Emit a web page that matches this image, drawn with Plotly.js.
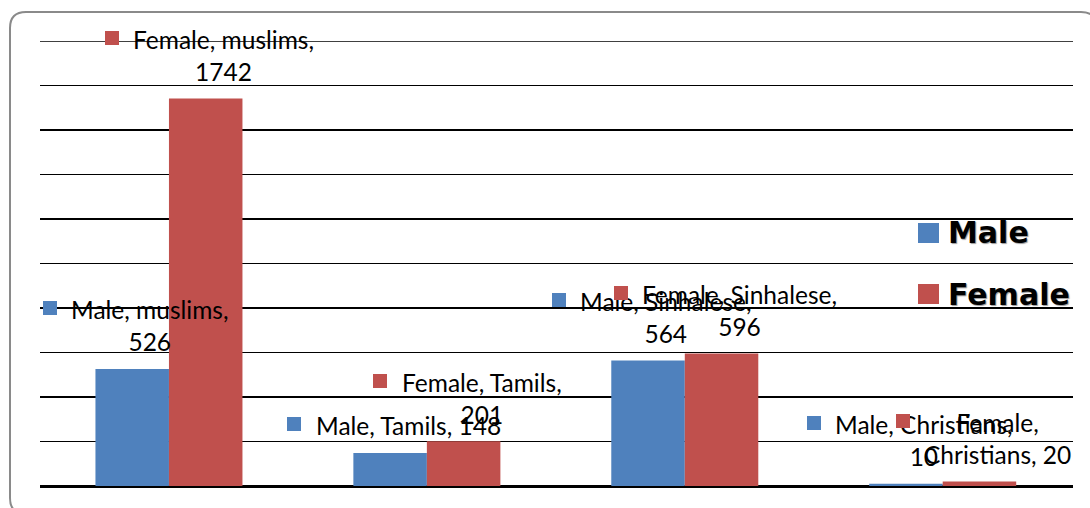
<!DOCTYPE html>
<html><head><meta charset="utf-8">
<script src="https://cdn.plot.ly/plotly-3.0.1.min.js"></script>
<style>html,body{margin:0;padding:0;background:#fff}#chart{width:1090px;height:508px}</style>
</head><body><div id="chart"></div>
<script>
// ---- data ----
const categories = ['muslims', 'Tamils', 'Sinhalese', 'Christians'];
const seriesNames = ['Male', 'Female'];
const maleValues = [526, 148, 564, 10];
const femaleValues = [1742, 201, 596, 20];
const yMax = 2000;
const yStep = 200;

// ---- styling ----
const colors = ['#4F81BD', '#C0504D'];
// how each data label wraps: 'cat' = break after category, 'none' = one line, 'series' = break after series name
const wraps = [['cat', 'none', 'cat', 'cat'], ['cat', 'cat', 'cat', 'series']];
const W = 1090, H = 508;
const M = {l: 40, r: 17, t: 41, b: 22};
const bargap = 0.43;
const labelFont = 'Lato';
const labelSize = 24.5;
const lineH = 31;

const plotW = W - M.l - M.r, plotH = H - M.t - M.b;
const P = (x, y) => [((x - M.l) / plotW).toFixed(5), ((H - M.b - y) / plotH).toFixed(5)];

const allValues = [maleValues, femaleValues];
const traces = seriesNames.map((name, s) => ({
  type: 'bar', name: name, x: categories, y: allValues[s],
  marker: {color: colors[s], line: {width: 0}},
  hoverinfo: 'skip', showlegend: false
}));

const ctx = document.createElement('canvas').getContext('2d');
ctx.font = labelSize + 'px ' + labelFont;

function labelLines(s, c, v, wrap) {
  if (wrap === 'none') return [s + ', ' + c + ', ' + v];
  if (wrap === 'series') return [s + ',', c + ', ' + v];
  return [s + ', ' + c + ',', String(v)];
}

const catW = plotW / categories.length;
const barOff = catW * (1 - bargap) / 4;
const annotations = [];
seriesNames.forEach((name, s) => {
  categories.forEach((cat, i) => {
    const lines = labelLines(name, cat, allValues[s][i], wraps[s][i]);
    const xs = (s === 0 ? -barOff : barOff) + 18;
    const ys = 12 + 15.5 * lines.length;
    annotations.push({
      x: cat, y: allValues[s][i], xref: 'x', yref: 'y', showarrow: false,
      text: lines.join('<br>'), align: 'center', xanchor: 'center', yanchor: 'middle',
      xshift: xs, yshift: ys,
      font: {family: labelFont, size: labelSize, color: '#000'}
    });
    const wMax = Math.max(...lines.map(l => ctx.measureText(l).width));
    annotations.push({
      x: cat, y: allValues[s][i], xref: 'x', yref: 'y', showarrow: false,
      text: ' ', width: 14, height: 14, bgcolor: colors[s], borderpad: 0, borderwidth: 0,
      xanchor: 'center', yanchor: 'middle', font: {size: 4},
      xshift: xs - wMax / 2 - 14 - 7, yshift: ys + (lines.length - 1) * lineH / 2 + 2
    });
  });
});

// legend (drawn manually to match the large keys)
const legendRows = [233, 294];
seriesNames.forEach((name, s) => {
  const sq = P(928.5, legendRows[s]);
  annotations.push({
    x: sq[0], y: sq[1], xref: 'paper', yref: 'paper', showarrow: false,
    text: ' ', width: 21, height: 20, bgcolor: colors[s], borderpad: 0, borderwidth: 0,
    xanchor: 'center', yanchor: 'middle', font: {size: 4}
  });
  const tx = P(946, legendRows[s]);
  annotations.push({
    x: tx[0], y: tx[1], xref: 'paper', yref: 'paper', showarrow: false,
    text: '<b>' + name + '</b>', xanchor: 'left', yanchor: 'middle',
    font: {family: 'DejaVu Sans', size: 30, color: '#000', shadow: '1px 1px 1px #999'}
  });
});

// rounded outer chart border
const bl = 10, bt = 12, br = 1097, bb = 514, rad = 16;
const pt = (x, y) => P(x, y).join(',');
const borderPath = 'M' + pt(bl + rad, bt) + ' L' + pt(br - rad, bt) + ' Q' + pt(br, bt) + ' ' + pt(br, bt + rad) +
  ' L' + pt(br, bb - rad) + ' Q' + pt(br, bb) + ' ' + pt(br - rad, bb) +
  ' L' + pt(bl + rad, bb) + ' Q' + pt(bl, bb) + ' ' + pt(bl, bb - rad) +
  ' L' + pt(bl, bt + rad) + ' Q' + pt(bl, bt) + ' ' + pt(bl + rad, bt) + ' Z';

const layout = {
  width: W, height: H,
  margin: M,
  paper_bgcolor: '#fff', plot_bgcolor: '#fff',
  barmode: 'group', bargap: bargap, bargroupgap: 0,
  showlegend: false,
  xaxis: {type: 'category', showticklabels: false, ticks: '', showgrid: false, zeroline: false,
          showline: true, linecolor: '#000', linewidth: 1.6},
  yaxis: {range: [0, yMax], dtick: yStep, showticklabels: false, ticks: '', showgrid: true,
          gridcolor: '#000', gridwidth: 1.6, zeroline: true, zerolinecolor: '#000', zerolinewidth: 1.6,
          showline: false, fixedrange: true},
  annotations: annotations,
  shapes: [
    {type: 'line', xref: 'paper', yref: 'y', x0: 0, x1: 1, y0: yMax, y1: yMax,
     line: {color: '#000', width: 1.6}, layer: 'below'},
    {type: 'path', xref: 'paper', yref: 'paper', path: borderPath,
     line: {color: '#8a8a8a', width: 2}, fillcolor: 'rgba(0,0,0,0)', layer: 'above'}]
};

Plotly.newPlot('chart', traces, layout, {displayModeBar: false, staticPlot: true});
</script>
</body></html>
